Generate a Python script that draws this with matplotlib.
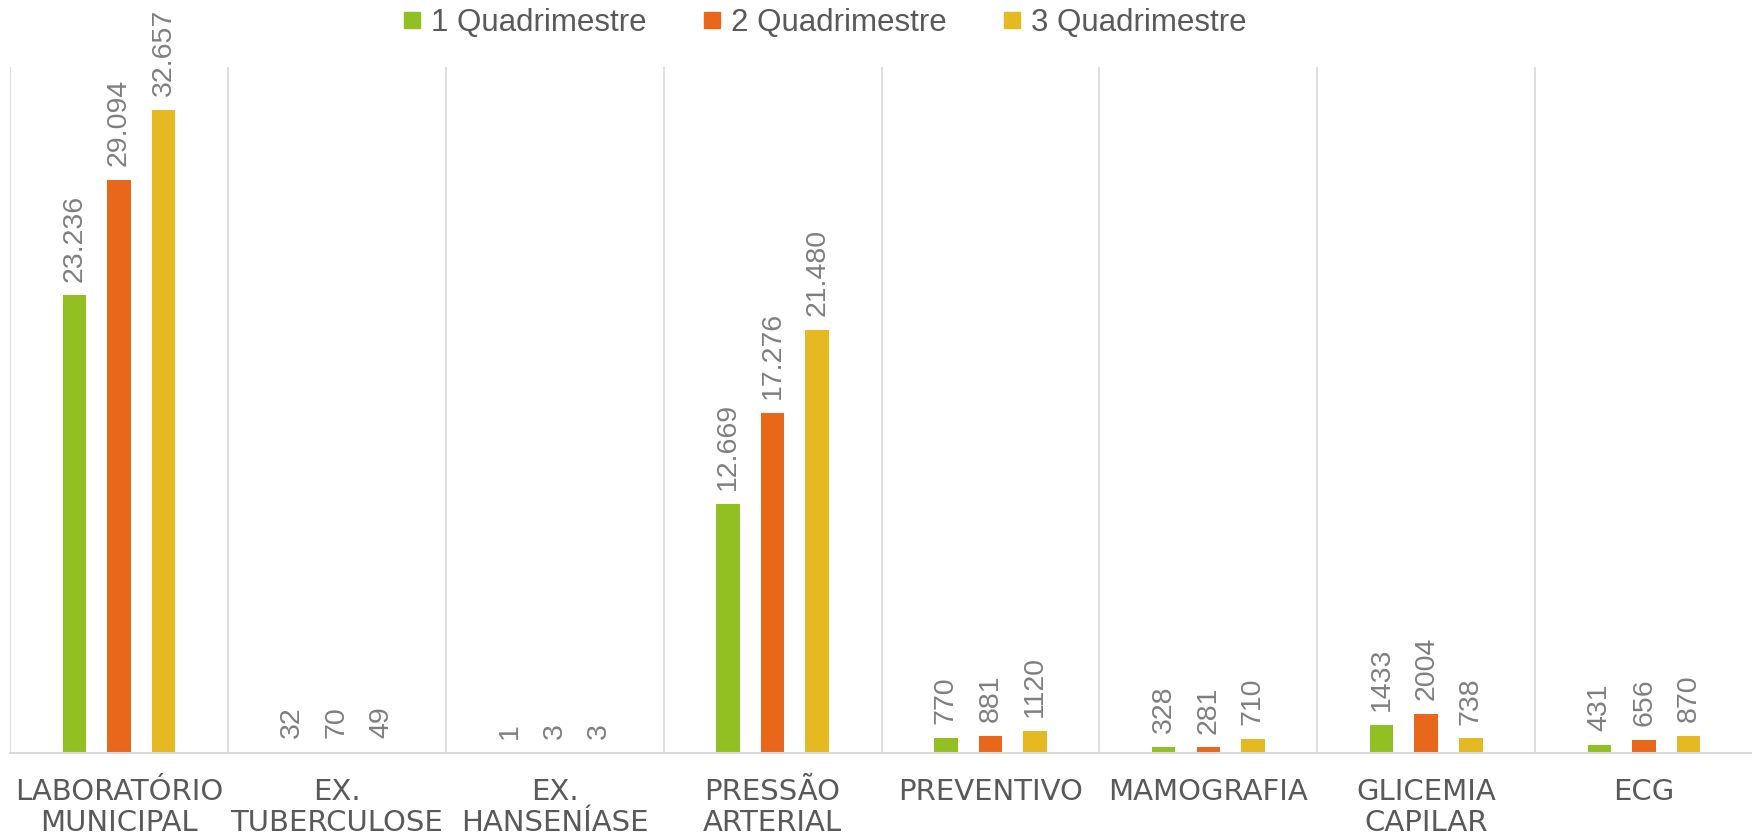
import matplotlib
matplotlib.use("Agg")
import matplotlib.pyplot as plt
from matplotlib.lines import Line2D
import numpy as np

categories = ["LABORATÓRIO\nMUNICIPAL", "EX.\nTUBERCULOSE", "EX.\nHANSENÍASE",
              "PRESSÃO\nARTERIAL", "PREVENTIVO", "MAMOGRAFIA",
              "GLICEMIA\nCAPILAR", "ECG"]
series_names = ["1 Quadrimestre", "2 Quadrimestre", "3 Quadrimestre"]
q1 = [23236, 32, 1, 12669, 770, 328, 1433, 431]
q2 = [29094, 70, 3, 17276, 881, 281, 2004, 656]
q3 = [32657, 49, 3, 21480, 1120, 710, 738, 870]
labels_q1 = ["23.236", "32", "1", "12.669", "770", "328", "1433", "431"]
labels_q2 = ["29.094", "70", "3", "17.276", "881", "281", "2004", "656"]
labels_q3 = ["32.657", "49", "3", "21.480", "1120", "710", "738", "870"]

colors = ["#92C022", "#E8671A", "#E6B922"]
label_color = "#7F7F7F"
cat_color = "#595959"
grid_color = "#D9D9D9"

W, H = 1752, 836
fig = plt.figure(figsize=(W / 100, H / 100), dpi=100)
ax = fig.add_axes([10 / W, (H - 753) / H, 1743 / W, 686 / H])

x = np.arange(len(categories))
offsets = [-0.205, 0.0, 0.205]
width = 0.108
all_vals = [q1, q2, q3]
all_labels = [labels_q1, labels_q2, labels_q3]
for vals, labs, off, col in zip(all_vals, all_labels, offsets, colors):
    bars = ax.bar(x + off, vals, width=width, color=col, zorder=3)
    for b, lab in zip(bars, labs):
        ax.annotate(lab, (b.get_x() + b.get_width() / 2, b.get_height()),
                    xytext=(0, 10), textcoords="offset points",
                    rotation=90, ha="center", va="bottom",
                    fontsize=20.5, color=label_color, family="Liberation Sans")

ax.set_xlim(-0.5, 7.5)
ax.set_ylim(0, 34840)
for gx in np.arange(-0.5, 8.0, 1.0):
    ax.axvline(gx, color=grid_color, lw=1.2, zorder=1)

for s in ["top", "right", "left"]:
    ax.spines[s].set_visible(False)
ax.spines["bottom"].set_color(grid_color)
ax.spines["bottom"].set_linewidth(1.5)
ax.spines["bottom"].set_zorder(4)
ax.set_yticks([])
ax.set_xticks(x)
ax.set_xticklabels(categories, fontsize=21, color=cat_color,
                   family="DejaVu Sans", linespacing=1.12)
ax.tick_params(axis="x", length=0, pad=18)

handles = [Line2D([], [], marker="s", linestyle="none", markersize=12,
                  markerfacecolor=c, markeredgecolor=c) for c in colors]
leg = fig.legend(handles, series_names, loc="center", ncol=3,
                 bbox_to_anchor=(0.4706, 0.973), frameon=False,
                 prop={"family": "Liberation Sans", "size": 22.5},
                 handlelength=0.6, handletextpad=0.3, columnspacing=1.8)
for t in leg.get_texts():
    t.set_color(cat_color)

fig.savefig("out.png", dpi=100)
